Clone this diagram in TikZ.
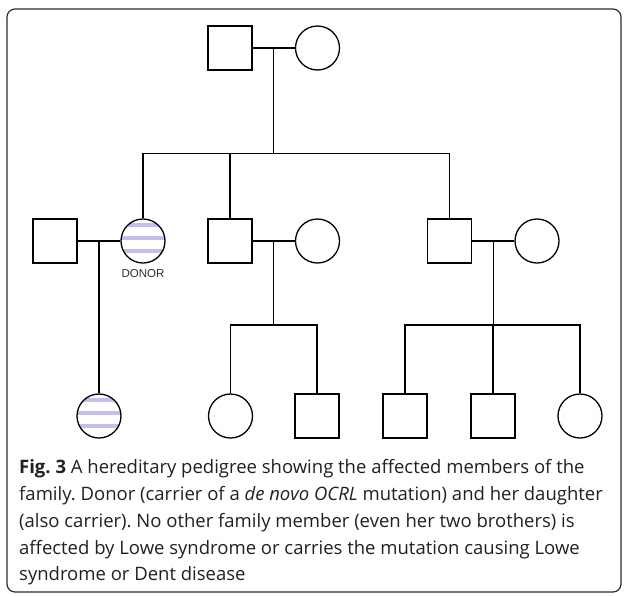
\documentclass[tikz,border=0pt]{standalone}
\usepackage{fontspec}
\setmainfont{Open Sans}
\newfontfamily\labelfont{Liberation Sans}
\usetikzlibrary{positioning,calc}
\definecolor{carrierblue}{RGB}{196,190,236}
\definecolor{framegray}{RGB}{45,45,45}
\definecolor{captiontext}{RGB}{35,31,32}
\frenchspacing

\tikzset{
  link/.style={line width=1.3pt},
  male/.style={draw, rectangle, minimum size=44pt, inner sep=0pt, line width=1.3pt},
  female/.style={draw, circle, minimum size=44pt, inner sep=0pt, line width=1.3pt},
  carrier/.style={female, path picture={
      \foreach \dy in {16,3,-10}
        \draw[carrierblue, line width=3.5pt]
          ([yshift=\dy pt]path picture bounding box.west) -- ([yshift=\dy pt]path picture bounding box.east);
    }},
}

\begin{document}
\begin{tikzpicture}[x=1pt, y=-1pt]
    \useasboundingbox (0,0) rectangle (624,595);
    \draw[framegray, line width=1.2pt, rounded corners=8pt] (7,9) rectangle (621,592);
    % first generation
    \node[male] (gf) at (230,48) {};
    \node[female] (gm) at (317.5,48) {};
    % second generation
    \node[male] (h1) at (55,241) {};
    \node[carrier] (donor) at (143,241) {};
    \node[male] (s2) at (230,241) {};
    \node[female] (w2) at (317.5,241) {};
    \node[male] (s3) at (449.5,241) {};
    \node[female] (w3) at (537,241) {};
    \node[below=5.5pt of donor, inner sep=0pt, text=framegray,
      font=\labelfont\fontsize{11.5}{12}\selectfont] (donorlbl) {DONOR};
    % third generation
    \node[carrier] (dau) at (99,416) {};
    \node[female] (g1) at (230.5,416) {};
    \node[male] (b1) at (317,416) {};
    \node[male] (b2) at (405,416) {};
    \node[male] (b3) at (493,416) {};
    \node[female] (g2) at (580,416) {};
    % marriages
    \draw[link] (gf) -- (gm);
    \draw[link] (h1) -- (donor);
    \draw[link] (s2) -- (w2);
    \draw[link] (s3) -- (w3);
    \coordinate (m0) at ($(gf)!0.5!(gm)$);
    \coordinate (m1) at ($(h1)!0.5!(donor)$);
    \coordinate (m2) at ($(s2)!0.5!(w2)$);
    \coordinate (m3) at ($(s3)!0.5!(w3)$);
    % sibships
    \coordinate (sibA) at (0,153.5);
    \coordinate (sibB) at (0,325);
    \draw[link] (m0) -- (m0 |- sibA);
    \draw[link] (donor.north) |- (s3.north |- sibA) -- (s3.north);
    \draw[link] (s2.north) -- (s2.north |- sibA);
    \draw[link] (m1) -- (dau.north);
    \draw[link] (m2) -- (m2 |- sibB);
    \draw[link] (g1.north) |- (b1.north |- sibB) -- (b1.north);
    \draw[link] (m3) -- (m3 |- sibB);
    \draw[link] (b2.north) |- (g2.north |- sibB) -- (g2.north);
    \draw[link] (b3.north) -- (b3.north |- sibB);
    % caption
    \node[anchor=north west, inner sep=0pt, align=left, text=captiontext,
      font=\fontsize{18.5}{26.75}\selectfont] (caption) at (19,459.5)
      {\textbf{Fig. 3} A hereditary pedigree showing the affected members of the\\
       family. Donor (carrier of a \textit{de novo OCRL} mutation) and her daughter\\
       (also carrier). No other family member (even her two brothers) is\\
       affected by Lowe syndrome or carries the mutation causing Lowe\\
       syndrome or Dent disease};
\end{tikzpicture}
\end{document}
